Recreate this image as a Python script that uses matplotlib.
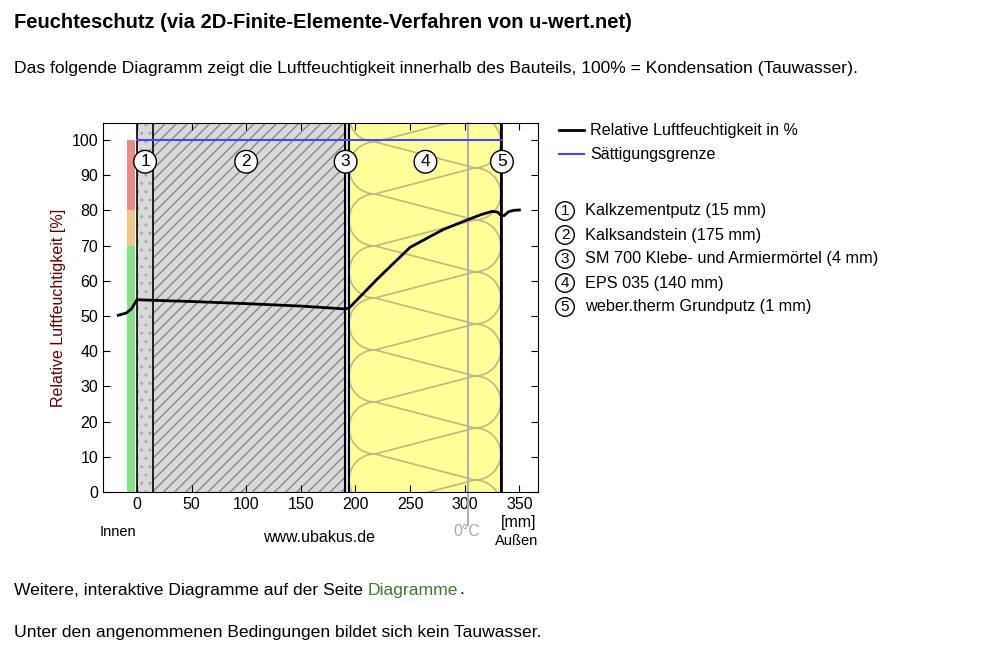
import numpy as np
import matplotlib.pyplot as plt
from matplotlib.patches import Rectangle

plt.rcParams["font.family"] = "Liberation Sans"
plt.rcParams["hatch.color"] = "#888888"

# layers (mm)
layer_names = ["Kalkzementputz (15 mm)", "Kalksandstein (175 mm)",
               "SM 700 Klebe- und Armiermörtel (4 mm)", "EPS 035 (140 mm)",
               "weber.therm Grundputz (1 mm)"]
layer_edges = [0, 15, 190, 194, 333, 334]
label_x = [7.5, 100, 191, 264, 334]

# relative humidity curve
rh_x = [-17, -10, -5, -2, 0, 50, 100, 150, 190, 194, 220, 250, 280, 300, 315, 325, 330, 333, 336, 340, 345, 350]
rh_y = [50.2, 50.8, 52.0, 53.5, 54.6, 54.1, 53.5, 52.8, 52.0, 52.2, 60.5, 69.5, 74.5, 77.0, 78.8, 79.7, 79.5, 78.6, 78.5, 79.6, 80.0, 80.1]
sat_x = [0, 334]
sat_y = [100, 100]

# comfort colour bar
bar_lo = [0, 70, 80]
bar_hi = [70, 80, 100]
bar_col = ["#88e088", "#f0c888", "#f08888"]

xticks = [0, 50, 100, 150, 200, 250, 300, 350]
yticks = list(range(0, 101, 10))

fig = plt.figure(figsize=(9.83, 6.58), dpi=100)
ax = fig.add_axes([103/983, 1-492/658, 435/983, 369/658])
ax.set_xlim(-31, 367)
ax.set_ylim(0, 104.8)

for lo, hi, c in zip(bar_lo, bar_hi, bar_col):
    ax.add_patch(Rectangle((-9.2, lo), 7.4, hi-lo, color=c, lw=0))

ytop = 104.8
ax.add_patch(Rectangle((0, 0), 15, ytop, fc="#d9d9d9", ec="#aaaaaa", hatch="..", lw=0))
ax.add_patch(Rectangle((15, 0), 175, ytop, fc="#d9d9d9", ec="#888888", hatch="///", lw=0))
ax.add_patch(Rectangle((190, 0), 4, ytop, fc="#e0e0e0", lw=0))
eps = Rectangle((194, 0), 139, ytop, fc="#ffff99", lw=0)
ax.add_patch(eps)
ax.add_patch(Rectangle((333, 0), 1, ytop, fc="#ffff99", lw=0))

# EPS pattern, built in pixel units then converted
sx, sy = 1.092, 3.52
r, d = 26, 26
xl, xr = 194*sx + r, 333*sx - r
verts = []
c = -40
th = np.linspace(0, np.pi, 20)
while c < 420:
    verts += [(xl - r*np.sin(t), c - r*np.cos(t)) for t in th]
    cr = c + 2*r - d
    verts += [(xr + r*np.sin(t), cr - r*np.cos(t)) for t in th]
    c = c + 4*r - 2*d
vx = np.array([v[0] for v in verts]) / sx
vy = np.array([v[1] for v in verts]) / sy
pat, = ax.plot(vx, vy, color="#c0b880", lw=1.2)
pat.set_clip_path(eps)

for e in layer_edges[1:]:
    ax.axvline(e, color="black", lw=1.5 if e in (190, 194, 333) else 1.2)
ax.axvline(0, color="black", lw=1.2)
ax.axvline(303, color="#b0b0b0", lw=1.5, ymin=-0.09, clip_on=False)

ax.plot(sat_x, sat_y, color="#4444ff", lw=1.5)
ax.plot(rh_x, rh_y, color="black", lw=2)

for i, x in enumerate(label_x):
    ax.text(x, 93.8, str(i+1), ha="center", va="center", fontsize=12.5,
            bbox=dict(boxstyle="circle,pad=0.22", fc="white", ec="black"))

ax.set_xticks(xticks)
ax.set_yticks(yticks)
ax.tick_params(direction="in", top=True, right=True, labelsize=11.5, length=5)
ax.set_ylabel("Relative Luftfeuchtigkeit [%]", fontsize=11.5, color="#660000")

fig.text(14/983, 1-22/658, "Feuchteschutz (via 2D-Finite-Elemente-Verfahren von u-wert.net)",
         fontsize=14.5, fontweight="bold", va="center")
fig.text(14/983, 1-68/658, "Das folgende Diagramm zeigt die Luftfeuchtigkeit innerhalb des Bauteils, 100% = Kondensation (Tauwasser).",
         fontsize=12.6, va="center")
fig.text(118/983, 1-532/658, "Innen", fontsize=10.5, ha="center", va="center")
fig.text(319/983, 1-537/658, "www.ubakus.de", fontsize=11.5, ha="center", va="center")
fig.text(467/983, 1-531/658, "0°C", fontsize=11.5, color="#aaaaaa", ha="center", va="center")
fig.text(519/983, 1-523/658, "[mm]", fontsize=11.5, ha="center", va="center")
fig.text(517/983, 1-541/658, "Außen", fontsize=10.5, ha="center", va="center")
fig.text(14/983, 1-590/658, "Weitere, interaktive Diagramme auf der Seite", fontsize=12.6, va="center")
fig.text(368/983, 1-590/658, "Diagramme", fontsize=12.6, va="center", color="#447733")
fig.text(459/983, 1-590/658, ".", fontsize=12.6, va="center")
fig.text(14/983, 1-633/658, "Unter den angenommenen Bedingungen bildet sich kein Tauwasser.", fontsize=12.6, va="center")

# legend
fig.lines.append(plt.Line2D([559/983, 584/983], [1-130/658]*2, color="black", lw=2, transform=fig.transFigure))
fig.text(590/983, 1-130/658, "Relative Luftfeuchtigkeit in %", fontsize=11.6, va="center")
fig.lines.append(plt.Line2D([559/983, 584/983], [1-154/658]*2, color="#4444ff", lw=1.5, transform=fig.transFigure))
fig.text(590/983, 1-154/658, "Sättigungsgrenze", fontsize=11.6, va="center")
for i, name in enumerate(layer_names):
    yy = 1-(211 + 24*i)/658
    fig.text(565/983, yy, str(i+1), fontsize=11, ha="center", va="center",
             bbox=dict(boxstyle="circle,pad=0.15", fc="white", ec="black"))
    fig.text(585/983, yy, name, fontsize=11.7, va="center")

fig.savefig("out.png", dpi=100)
